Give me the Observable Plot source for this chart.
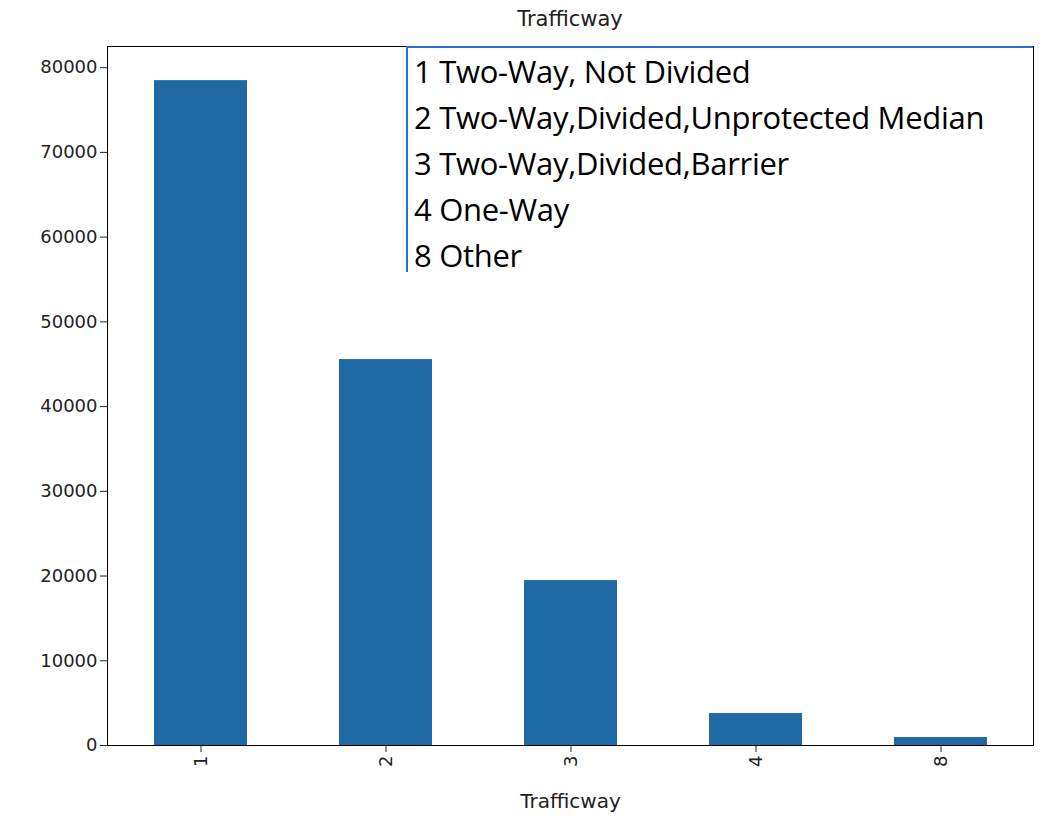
<!DOCTYPE html>
<html>
<head>
<meta charset="utf-8">
<script src="https://cdn.jsdelivr.net/npm/d3@7"></script>
<script src="https://cdn.jsdelivr.net/npm/@observablehq/plot@0.6"></script>
<style>
  body { margin: 0; background: #fff; }
  #wrap { position: relative; width: 1056px; height: 826px; }
  #title { position: absolute; top: 7px; left: 107px; width: 926px; text-align: center;
    font: 21px "DejaVu Sans", sans-serif; color: #222; }
  #note { position: absolute; left: 406px; top: 46px; width: 627px; height: 226px;
    border-top: 2px solid #2a6fd6; border-left: 2px solid #2a6fd6; box-sizing: border-box;
    background: #fff; padding: 0 0 0 6px; font: 31px "Open Sans", sans-serif; line-height: 46px;
    letter-spacing: -0.3px; color: #000; white-space: nowrap; overflow: visible; }
</style>
</head>
<body>
<div id="wrap">
  <div id="chart"></div>
  <div id="title">Trafficway</div>
  <div id="note"></div>
</div>
<script>
const categories = ["1", "2", "3", "4", "8"];
const counts = [78470, 45550, 19470, 3780, 940];
const legendLines = [
  "1 Two-Way, Not Divided",
  "2 Two-Way,Divided,Unprotected Median",
  "3 Two-Way,Divided,Barrier",
  "4 One-Way",
  "8 Other"
];

const data = categories.map((c, i) => ({cat: c, n: counts[i]}));

const chart = Plot.plot({
  width: 1056,
  height: 826,
  marginLeft: 107,
  marginRight: 23,
  marginTop: 46,
  marginBottom: 81,
  style: {fontFamily: "DejaVu Sans", fontSize: "18px", color: "#222"},
  x: {domain: categories, paddingInner: 0.5, paddingOuter: 0.25, label: null, tickRotate: -90, tickSize: 7},
  y: {domain: [0, 82500], ticks: d3.range(0, 80001, 10000), tickFormat: d => String(d), label: null, tickSize: 7},
  marks: [
    Plot.barY(data, {x: "cat", y: "n", fill: "#1f6aa5"}),
    Plot.frame({stroke: "#000"}),
    Plot.text(["Trafficway"], {frameAnchor: "bottom", dy: 62, fontSize: 20, fill: "#222"})
  ]
});
d3.select("#chart").append(() => chart);
d3.select("#note").html(legendLines.join("<br>"));
</script>
</body>
</html>
